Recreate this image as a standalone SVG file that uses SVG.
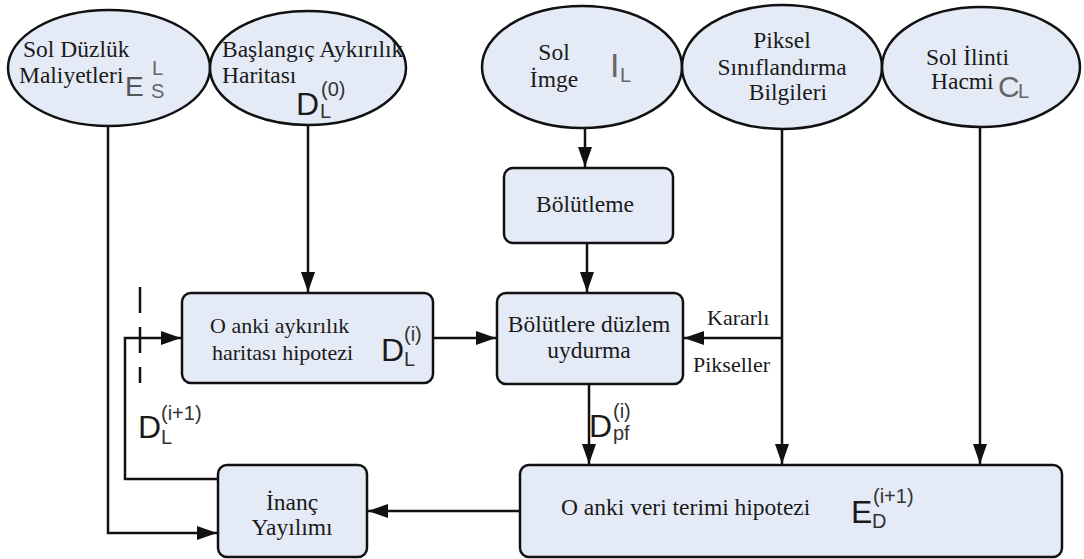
<svg xmlns="http://www.w3.org/2000/svg" width="1084" height="559" viewBox="0 0 1084 559">
<style>
.node{fill:#e5ebf6;stroke:#111;stroke-width:2.5}
.t{font-family:"Liberation Serif",serif;font-size:23.5px;fill:#1a1a1a}
.t2{font-family:"Liberation Serif",serif;font-size:22px;fill:#1a1a1a}
.m{font-family:"Liberation Sans",Arial,sans-serif;font-size:32px;fill:#1a1a1a}
.s{font-family:"Liberation Sans",Arial,sans-serif;font-size:20px;fill:#333}
.g{fill:#666}
.c{text-anchor:middle}
.ln{fill:none;stroke:#111;stroke-width:2.5}
.dash{fill:none;stroke:#111;stroke-width:2.5;stroke-dasharray:26 14}
</style>
<defs>
<marker id="ah" markerWidth="20" markerHeight="14" refX="20" refY="7" orient="auto" markerUnits="userSpaceOnUse">
<path d="M0,0 L20,7 L0,14 Z" fill="#111"/>
</marker>
</defs>
<rect width="1084" height="559" fill="#fff"/>

<g id="connectors">
<path class="ln" d="M108,126 V533 H217" marker-end="url(#ah)"/>
<path class="ln" d="M308,125 V292" marker-end="url(#ah)"/>
<path class="ln" d="M585,128 V167" marker-end="url(#ah)"/>
<path class="ln" d="M587,243 V292" marker-end="url(#ah)"/>
<path class="ln" d="M433,338 H496" marker-end="url(#ah)"/>
<path class="ln" d="M782,129 V464" marker-end="url(#ah)"/>
<path class="ln" d="M782,338 H684" marker-end="url(#ah)"/>
<path class="ln" d="M980,127 V464" marker-end="url(#ah)"/>
<path class="ln" d="M589,385 V464" marker-end="url(#ah)"/>
<path class="ln" d="M520,511 H368" marker-end="url(#ah)"/>
<path class="ln" d="M218,479 H125 V338 H181" marker-end="url(#ah)"/>
<path class="dash" d="M140,287 V383"/>
</g>

<g id="n1">
<ellipse class="node" cx="109" cy="68" rx="101" ry="58"/>
<text class="t" x="23" y="57">Sol Düzlük</text>
<text class="t" x="19" y="83">Maliyetleri</text>
<text class="m" x="125" y="96" style="font-size:28px;fill:#555">E</text>
<text class="s" x="152" y="75" style="fill:#666">L</text>
<text class="s" x="151" y="98" style="fill:#666">S</text>
</g>

<g id="n2">
<ellipse class="node" cx="308" cy="68" rx="98" ry="57"/>
<text class="t" x="222" y="57">Başlangıç Aykırılık</text>
<text class="t" x="222" y="83">Haritası</text>
<text class="m" x="296" y="115">D</text>
<text class="s" x="321" y="96">(0)</text>
<text class="s" x="320" y="118">L</text>
</g>

<g id="n3">
<ellipse class="node" cx="582" cy="67" rx="100" ry="61"/>
<text class="t c" x="554" y="60">Sol</text>
<text class="t c" x="554" y="87">İmge</text>
<text class="m g" x="610" y="77" style="font-size:34px">I</text>
<text class="s g" x="620" y="82">L</text>
</g>

<g id="n4">
<ellipse class="node" cx="782" cy="67" rx="100" ry="62"/>
<text class="t c" x="782" y="48">Piksel</text>
<text class="t c" x="782" y="75">Sınıflandırma</text>
<text class="t c" x="788" y="100">Bilgileri</text>
</g>

<g id="n5">
<ellipse class="node" cx="981" cy="67" rx="99" ry="60"/>
<text class="t" x="926" y="65">Sol İlinti</text>
<text class="t" x="931" y="89">Hacmi</text>
<text class="m g" x="998" y="97" style="font-size:30px">C</text>
<text class="s g" x="1018" y="98">L</text>
</g>

<g id="n6">
<rect class="node" x="504" y="168" width="169" height="75" rx="9"/>
<text class="t c" x="585" y="212">Bölütleme</text>
</g>

<g id="n7">
<rect class="node" x="182" y="293" width="251" height="90" rx="9"/>
<text class="t2" x="210" y="333">O anki aykırılık</text>
<text class="t2" x="212" y="360">haritası hipotezi</text>
<text class="m" x="381" y="361">D</text>
<text class="s" x="404" y="341">(i)</text>
<text class="s" x="404" y="366">L</text>
</g>

<g id="n8">
<rect class="node" x="497" y="293" width="186" height="91" rx="9"/>
<text class="t c" x="589" y="332">Bölütlere düzlem</text>
<text class="t c" x="589" y="358">uydurma</text>
</g>

<g id="n9">
<rect class="node" x="218" y="465" width="149" height="92" rx="9"/>
<text class="t c" x="292" y="510">İnanç</text>
<text class="t c" x="292" y="535">Yayılımı</text>
</g>

<g id="n10">
<rect class="node" x="520" y="465" width="542" height="92" rx="9"/>
<text class="t" x="561" y="515">O anki veri terimi hipotezi</text>
<text class="m" x="851" y="523">E</text>
<text class="s" x="873" y="503">(i+1)</text>
<text class="s" x="872" y="528">D</text>
</g>

<g id="labels">
<text class="t2" x="707" y="325">Kararlı</text>
<text class="t2" x="693" y="372">Pikseller</text>
<text class="m" x="589" y="437">D</text>
<text class="s" x="613" y="418">(i)</text>
<text class="s" x="613" y="440">pf</text>
<text class="m" x="138" y="438">D</text>
<text class="s" x="161" y="420">(i+1)</text>
<text class="s" x="161" y="444">L</text>
</g>
</svg>
